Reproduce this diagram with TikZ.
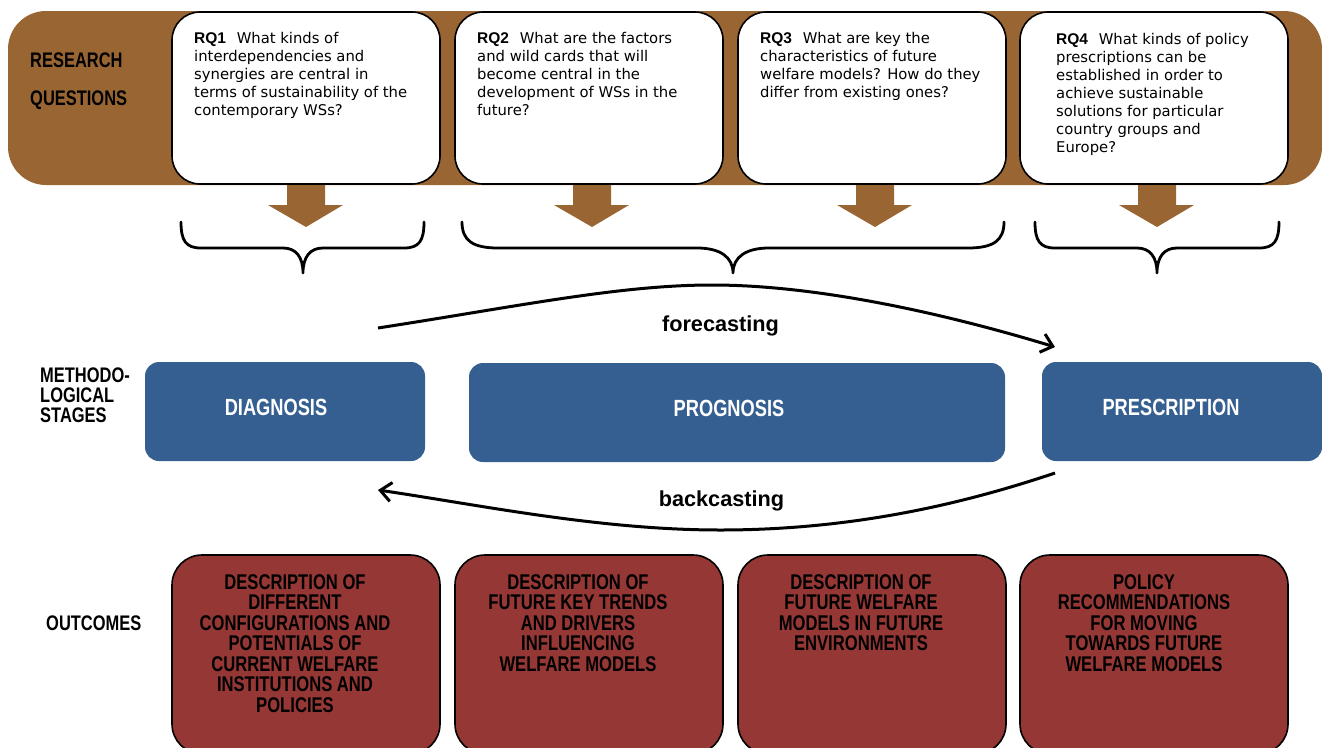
\documentclass[tikz,border=0pt]{standalone}
\usepackage{fontspec}
\setmainfont{DejaVu Sans}
\setsansfont{Liberation Sans}
\newfontfamily\condfont{Liberation Sans}[FakeStretch=0.78]
\usetikzlibrary{arrows.meta}

\definecolor{rqbrown}{RGB}{153,102,51}
\definecolor{stageblue}{RGB}{54,95,145}
\definecolor{outred}{RGB}{149,55,53}

\newcommand{\rqtagfont}{\sffamily\bfseries\fontsize{15.5}{18}\selectfont}

\tikzset{
  band/.style={fill=rqbrown, rounded corners=38pt, minimum width=1314pt, minimum height=174pt, inner sep=0pt},
  rqbox/.style={draw, line width=1.6pt, fill=white, rounded corners=28pt, minimum width=268pt, minimum height=172pt, inner sep=0pt},
  rqtext/.style={anchor=north west, inner sep=0pt, align=left, font=\fontsize{14.8}{18}\selectfont},
  qarrow/.style={fill=rqbrown},
  brace line/.style={line width=2.8pt, line cap=round, line join=round},
  stagebox/.style={fill=stageblue, rounded corners=14pt, minimum height=99pt, inner sep=0pt},
  stagetext/.style={text=white, inner sep=0pt, font=\condfont\bfseries\fontsize{23.4}{24}\selectfont},
  outbox/.style={draw, line width=1.6pt, fill=outred, rounded corners=30pt, minimum width=268pt, minimum height=199pt, inner sep=0pt},
  outtext/.style={anchor=north, inner sep=0pt, align=center, font=\condfont\bfseries\fontsize{21.3}{20.5}\selectfont},
  rowlabel/.style={anchor=west, inner sep=0pt, align=left, font=\condfont\bfseries\fontsize{21.1}{20}\selectfont},
  cast/.style={line width=3pt, -{Straight Barb[length=11pt,width=19pt]}},
  castlabel/.style={anchor=base, inner sep=0pt, font=\sffamily\bfseries\fontsize{21.7}{22}\selectfont},
}

\begin{document}
\begin{tikzpicture}[x=1pt,y=-1pt]
  \useasboundingbox (0,0) rectangle (1322,747);

  %% research questions
  \node[band] (band) at (665,98) {};
  \node[rowlabel] (rqlbl1) at (30,60) {RESEARCH};
  \node[rowlabel] (rqlbl2) at (30,100.5) {QUESTIONS};

  \begin{scope}
    \node[rqbox] (rq1) at (306,98) {};
    \node[rqtext] (rq1txt) at (194,32) {{\rqtagfont RQ1}\hspace{6pt} What kinds of\\interdependencies and\\synergies are central in\\terms of sustainability of the\\contemporary WSs?};
    \fill[qarrow] (287,185) -- (325,185) -- (325,205) -- (343,205) -- (306,227) -- (268,205) -- (287,205) -- cycle;
    \node[outbox] (out1) at (306,654.5) {};
    \node[outtext] (out1txt) at (295,574) {DESCRIPTION OF\\DIFFERENT\\CONFIGURATIONS AND\\POTENTIALS OF\\CURRENT WELFARE\\INSTITUTIONS AND\\POLICIES};
  \end{scope}

  \begin{scope}[xshift=283pt]
    \node[rqbox] (rq2) at (306,98) {};
    \node[rqtext] (rq2txt) at (194,32) {{\rqtagfont RQ2}\hspace{6pt} What are the factors\\and wild cards that will\\become central in the\\development of WSs in the\\future?};
    \fill[qarrow] (290,185) -- (328,185) -- (328,205) -- (346,205) -- (309,227) -- (271,205) -- (290,205) -- cycle;
    \node[outbox] (out2) at (306,654.5) {};
    \node[outtext] (out2txt) at (295,574) {DESCRIPTION OF\\FUTURE KEY TRENDS\\AND DRIVERS\\INFLUENCING\\WELFARE MODELS};
  \end{scope}

  \begin{scope}[xshift=566pt]
    \node[rqbox] (rq3) at (306,98) {};
    \node[rqtext] (rq3txt) at (194,32) {{\rqtagfont RQ3}\hspace{6pt} What are key the\\characteristics of future\\welfare models? How do they\\differ from existing ones?};
    \fill[qarrow] (290,185) -- (328,185) -- (328,205) -- (346,205) -- (309,227) -- (271,205) -- (290,205) -- cycle;
    \node[outbox] (out3) at (306,654.5) {};
    \node[outtext] (out3txt) at (295,574) {DESCRIPTION OF\\FUTURE WELFARE\\MODELS IN FUTURE\\ENVIRONMENTS};
  \end{scope}

  \begin{scope}[xshift=849pt]
    \node[rqbox] (rq4) at (305,98) {};
    \node[rqtext] (rq4txt) at (207,33) {{\rqtagfont RQ4}\hspace{6pt} What kinds of policy\\prescriptions can be\\established in order to\\achieve sustainable\\solutions for particular\\country groups and\\Europe?};
    \fill[qarrow] (289,185) -- (327,185) -- (327,205) -- (345,205) -- (308,227) -- (270,205) -- (289,205) -- cycle;
    \node[outbox] (out4) at (305,654.5) {};
    \node[outtext] (out4txt) at (295,574) {POLICY\\RECOMMENDATIONS\\FOR MOVING\\TOWARDS FUTURE\\WELFARE MODELS};
  \end{scope}

  %% braces
  \draw[brace line] (181,222) .. controls (181,241) and (186,248) .. (201,248) -- (283,248)
    .. controls (296,248) and (303,257) .. (303,273) .. controls (303,257) and (310,248) .. (323,248)
    -- (404,248) .. controls (419,248) and (424,241) .. (424,222);
  \draw[brace line] (462,222) .. controls (462,240) and (472,248) .. (498,248) -- (697,248)
    .. controls (720,248) and (733,257) .. (733,273) .. controls (733,257) and (746,248) .. (769,248)
    -- (968,248) .. controls (994,248) and (1004,240) .. (1004,222);
  \draw[brace line] (1035,222) .. controls (1035,241) and (1040,248) .. (1055,248) -- (1137,248)
    .. controls (1150,248) and (1157,257) .. (1157,273) .. controls (1157,257) and (1164,248) .. (1177,248)
    -- (1259,248) .. controls (1274,248) and (1279,241) .. (1279,222);

  %% methodological stages
  \node[rowlabel] (mslbl) at (40,395) {METHODO-\\LOGICAL\\STAGES};
  \node[stagebox, minimum width=280pt] (diag) at (285,411.5) {};
  \node[stagetext] (diagtxt) at (276,407) {DIAGNOSIS};
  \node[stagebox, minimum width=536pt] (prog) at (737,412.5) {};
  \node[stagetext] (progtxt) at (729,408) {PROGNOSIS};
  \node[stagebox, minimum width=280pt] (presc) at (1182,411.5) {};
  \node[stagetext] (presctxt) at (1171,407) {PRESCRIPTION};

  \coordinate (fcstart) at (378,328);
  \coordinate (fcend) at (1055,347);
  \draw[cast] (fcstart) .. controls (520,306) and (620,285) .. (712,285) .. controls (820,285) and (950,315) .. (fcend);
  \node[castlabel] (fclbl) at (720.5,331) {forecasting};

  \coordinate (bcstart) at (1055,473);
  \coordinate (bcend) at (378,490);
  \draw[cast] (bcstart) .. controls (960,505) and (850,530) .. (720,530) .. controls (600,530) and (480,505) .. (bcend);
  \node[castlabel] (bclbl) at (721.5,506) {backcasting};

  %% outcomes
  \node[rowlabel] (outlbl) at (46,623) {OUTCOMES};
\end{tikzpicture}
\end{document}
